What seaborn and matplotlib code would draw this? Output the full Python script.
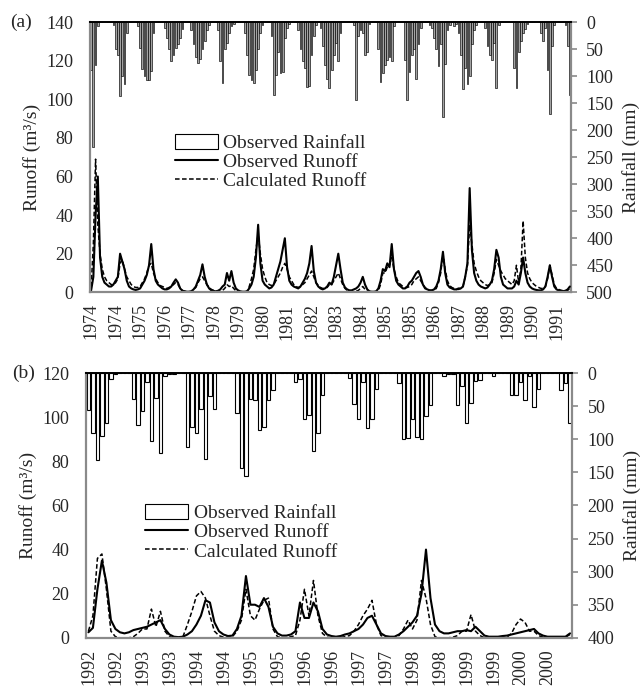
import numpy as np
import seaborn as sns
import matplotlib.pyplot as plt
from matplotlib.patches import Patch
from matplotlib.lines import Line2D

# ---- panel (a): monthly data 1974-1991 ----
rain_a = [88, 232, 80, 8, 0, 0, 0, 0, 0, 0, 5, 50,
          60, 137, 100, 115, 20, 0, 0, 0, 0, 8, 47, 87,
          100, 108, 107, 90, 20, 0, 0, 0, 0, 10, 30, 50,
          72, 60, 48, 40, 30, 12, 0, 0, 0, 15, 40, 65,
          75, 68, 50, 35, 15, 5, 0, 0, 0, 15, 72, 112,
          50, 38, 20, 8, 3, 0, 0, 0, 0, 20, 60, 98,
          108, 112, 88, 50, 20, 5, 0, 0, 0, 25, 134, 98,
          55, 95, 93, 30, 10, 3, 0, 0, 0, 15, 50, 72,
          85, 121, 118, 60, 25, 5, 0, 10, 45, 80, 105, 122,
          88, 60, 38, 72, 20, 0, 0, 0, 0, 0, 5, 145,
          25, 15, 20, 60, 55, 3, 0, 0, 0, 50, 110, 95,
          80, 70, 65, 72, 8, 0, 0, 0, 0, 70, 145, 92,
          60, 50, 105, 40, 10, 0, 0, 0, 5, 10, 30, 50,
          82, 40, 175, 78, 15, 5, 0, 8, 3, 20, 60, 124,
          85, 114, 100, 40, 15, 5, 0, 0, 0, 10, 45, 60,
          70, 38, 122, 5, 0, 0, 0, 0, 0, 0, 85, 122,
          55, 35, 20, 12, 3, 0, 0, 0, 0, 0, 20, 35,
          10, 88, 170, 45, 5, 0, 0, 0, 0, 5, 45, 135]

obs_a = [1, 8, 40, 60, 18, 8, 5, 4, 3, 3, 4, 6,
         8, 20, 16, 12, 6, 3, 2, 1.5, 1.2, 1.5, 2, 4,
         6, 9, 14, 25, 12, 6, 4, 3, 2, 1.5, 1.5, 2,
         3, 5, 6.7, 5, 2, 0.8, 0.5, 0.3, 0.3, 0.5, 1.5, 3,
         6, 9, 14.5, 8, 4, 2, 1, 0.7, 0.5, 0.8, 1.5, 3,
         4, 10, 6, 11, 5, 2, 1, 0.5, 0.3, 0.3, 0.5, 2,
         4, 8, 18, 35, 15, 6, 4, 3, 2, 2.5, 4, 8,
         12, 16, 22, 28, 13, 6, 4, 3, 2.5, 2, 3, 5,
         7, 10, 15, 24, 11, 5, 3, 2, 1.5, 2, 3, 5,
         4, 8, 14, 20, 12, 5, 2.5, 1.5, 1, 1, 1.5, 2,
         3, 5, 8, 4, 1.5, 0.5, 0.3, 0.3, 0.5, 2, 6, 12,
         11, 15, 13, 25, 12, 6, 4, 3, 2, 2, 3, 5,
         6, 8, 10, 11, 8, 4, 2, 1.5, 1, 1, 1.5, 3,
         6, 12, 21, 10, 4, 2.5, 2, 1.5, 1.5, 2, 2, 3,
         8, 15, 54, 22, 10, 6, 4, 3, 2.5, 2, 2.5, 4,
         6, 12, 22, 18, 8, 4, 3, 2, 2, 2, 3, 6,
         4, 10, 18, 10, 5, 3, 2, 1.5, 1.2, 1, 1, 1.5,
         3, 8, 14, 8, 3, 1.5, 1, 0.8, 0.6, 0.8, 1.5, 3]

calc_a = [3, 25, 69, 35, 20, 12, 8, 6, 5, 4, 4, 5,
          7, 15, 17, 12, 8, 6, 4, 3, 2.5, 2.5, 3, 5,
          7, 10, 14, 15, 10, 7, 5, 3.5, 3, 2.5, 2, 2.5,
          3, 4, 5, 4, 2, 1, 0.5, 0.3, 0.3, 0.5, 1.5, 2.5,
          5, 7, 8, 6, 4, 2.5, 1.5, 1, 0.5, 0.3, 0.5, 1,
          2, 4, 3, 3.5, 2, 0.8, 0.3, 0, 0, 0, 0.3, 3,
          7, 12, 22, 30, 20, 12, 8, 5, 4, 3.5, 4, 6,
          8, 10, 13, 15, 12, 8, 6, 4, 3, 2.5, 3, 4,
          5, 7, 9, 11, 8, 5, 3.5, 2.5, 2, 2, 2.5, 4,
          4, 6, 8, 10, 7, 4, 2, 1, 0.5, 0.3, 0.2, 0.5,
          1, 2, 3, 1.5, 0.5, 0, 0, 0, 0, 1, 4, 10,
          10, 13, 14, 18, 12, 8, 5, 4, 3, 2.5, 2.5, 3,
          4, 6, 7, 8, 6, 4, 2.5, 1.5, 1, 1, 1, 2,
          5, 10, 20, 12, 6, 3.5, 2.5, 2, 1.5, 1.5, 2, 3,
          8, 14, 35, 25, 15, 11, 8, 6, 5, 4, 3.5, 4,
          5, 10, 17, 14, 11, 9, 7, 6, 5, 4, 6, 14,
          5, 12, 37, 18, 10, 7, 5, 4, 3, 2.5, 2, 2,
          3, 7, 14, 9, 4, 2, 1.5, 1, 0.8, 0.8, 1, 2]

labels_a = ["1974", "1974", "1975", "1976", "1977", "1978", "1979", "1980",
            "1981", "1982", "1983", "1984", "1985", "1985", "1986", "1987",
            "1988", "1989", "1990", "1991"]

# ---- panel (b): monthly data 1992-2000 ----
rain_b = [56, 90, 132, 95, 75, 9, 2, 0, 0, 0, 39, 79,
          57, 13, 102, 38, 120, 5, 2, 1, 0, 0, 112, 81,
          90, 54, 130, 35, 54, 0, 0, 0, 0, 60, 144, 155,
          39, 40, 86, 82, 40, 25, 0, 0, 0, 0, 13, 9,
          70, 64, 117, 91, 33, 0, 0, 0, 0, 0, 7, 46,
          70, 14, 83, 70, 24, 0, 0, 0, 0, 15, 99, 98,
          70, 96, 100, 65, 48, 0, 0, 5, 2, 2, 48, 20,
          75, 45, 12, 10, 0, 0, 5, 0, 0, 0, 33, 33,
          13, 40, 5, 51, 24, 0, 0, 0, 0, 25, 15, 75]

obs_b = [2.5, 4.5, 22, 35, 25, 8, 4, 2.5, 2, 2.5, 3.5, 4,
         4.5, 5, 6, 7, 8, 4, 1.5, 0.5, 0.3, 0.5, 1.5, 3,
         6, 10, 17, 16, 7, 3, 1.5, 0.8, 1, 4, 10, 28,
         15, 15, 14, 18, 14, 5, 2, 1, 1, 1.5, 3, 16,
         9, 9, 16, 12, 4, 1.5, 0.8, 0.5, 0.8, 1.5, 2, 3,
         4, 6, 9, 10, 6, 2, 0.8, 0.5, 0.5, 1.5, 3, 5,
         7, 10, 20, 40, 18, 6, 3, 2, 2, 2.5, 3, 3,
         3.5, 3, 5, 3, 1, 0.5, 0.5, 0.5, 0.8, 1, 1.5, 2,
         2.5, 3, 3.5, 4, 2, 1, 0.5, 0.5, 0.5, 0.5, 0.5, 2]

calc_b = [3, 10, 36, 38, 22, 3, 0.5, 0, 0, 0, 0.5, 2,
          4, 4, 13, 5, 12, 3, 0.5, 0, 0, 0.5, 6, 12,
          19, 21, 18, 10, 3, 1, 0.3, 0.3, 0.5, 3, 8, 22,
          10, 8, 13, 17, 18, 4, 0.5, 0, 0, 0.5, 1, 8,
          22, 10, 26, 10, 2, 0.3, 0, 0, 0.2, 0.5, 1, 3,
          6, 10, 13, 17, 6, 1, 0.2, 0, 0.2, 1, 4, 8,
          4, 8, 26, 18, 6, 0.5, 0, 0, 0, 0.3, 1, 3,
          3, 10.5, 3, 1, 0, 0, 0, 0, 0, 0.3, 2, 6,
          8.5, 7, 3, 3, 1, 0.3, 0, 0, 0, 0, 0.3, 1.5]

labels_b = ["1992", "1992", "1993", "1993", "1994", "1994", "1995", "1995",
            "1996", "1996", "1997", "1997", "1998", "1998", "1999", "1999",
            "2000", "2000"]

sns.set_style("white")
plt.rcParams['font.family'] = ['Liberation Serif', 'DejaVu Serif']
plt.rcParams['font.size'] = 13

GRAY = '#8a8a8a'


def draw_panel(ax, rain, obs, calc, labels, step, run_max, rain_max,
               bar_fc, bar_lw, leg_anchor):
    n = len(rain)
    months = np.arange(n)
    ax2 = ax.twinx()

    # rainfall bars hanging from the top (inverted right axis)
    sns.barplot(x=months, y=rain, ax=ax2, native_scale=True, orient='x',
                color=bar_fc, saturation=1, edgecolor='black',
                linewidth=bar_lw, width=0.8, errorbar=None)
    sns.lineplot(x=months, y=obs, ax=ax, color='black', linewidth=1.5)
    sns.lineplot(x=months, y=calc, ax=ax, color='black', linewidth=1.1,
                 linestyle=(0, (3, 1.6)))

    ax.set_zorder(ax2.get_zorder() + 1)
    ax.patch.set_visible(False)

    ax.set_xlim(-0.5, n - 0.5)
    ax.set_ylim(0, run_max)
    ax2.set_ylim(rain_max, 0)
    ax.set_yticks(np.arange(0, run_max + 1, 20))
    ax2.set_yticks(np.arange(0, rain_max + 1, 50))

    ax.set_xticks(months[::step])
    ax.set_xticklabels(labels, rotation=90)
    ax.tick_params(axis='x', length=0, pad=8, labelsize=13)
    ax.tick_params(axis='y', length=0, pad=12, labelsize=13)
    ax2.tick_params(axis='y', length=4, width=1.2, color=GRAY, pad=7,
                    labelsize=13)

    ax.set_xlabel('')
    ax.set_ylabel('Runoff (m³/s)', fontsize=14, labelpad=4)
    ax2.set_ylabel('Rainfall (mm)', fontsize=14, labelpad=6)

    for side in ['left', 'bottom']:
        ax.spines[side].set_color(GRAY)
        ax.spines[side].set_linewidth(1.6)
    ax.spines['right'].set_visible(False)
    ax.spines['top'].set_color('black')
    ax.spines['top'].set_linewidth(1.4)
    for side in ['left', 'bottom', 'top']:
        ax2.spines[side].set_visible(False)
    ax2.spines['right'].set_color(GRAY)
    ax2.spines['right'].set_linewidth(1.6)

    handles = [Patch(facecolor='white', edgecolor='black', linewidth=0.8),
               Line2D([], [], color='black', linewidth=1.5),
               Line2D([], [], color='black', linewidth=1.1,
                      linestyle=(0, (3, 1.6)))]
    ax.legend(handles, ['Observed Rainfall', 'Observed Runoff',
                        'Calculated Runoff'],
              loc='upper left', bbox_to_anchor=leg_anchor, frameon=False,
              fontsize=14, handlelength=2.2, handleheight=0.8,
              handletextpad=0.3, labelspacing=0.05, borderaxespad=0)


fig = plt.figure(figsize=(6.43, 6.91), dpi=100)
ax_a = fig.add_axes([0.140, 0.577, 0.748, 0.391])
ax_b = fig.add_axes([0.134, 0.077, 0.756, 0.383])

draw_panel(ax_a, rain_a, obs_a, calc_a, labels_a, 11, 140, 500, '#a3a3a3',
           0.45, (0.16, 0.615))
draw_panel(ax_b, rain_b, obs_b, calc_b, labels_b, 6, 120, 400, 'white',
           0.8, (0.105, 0.535))

fig.text(10 / 643, 1 - 22 / 691, '(a)', fontsize=14, va='center')
fig.text(12 / 643, 1 - 373 / 691, '(b)', fontsize=14, va='center')

fig.savefig('out.png', dpi=100)
